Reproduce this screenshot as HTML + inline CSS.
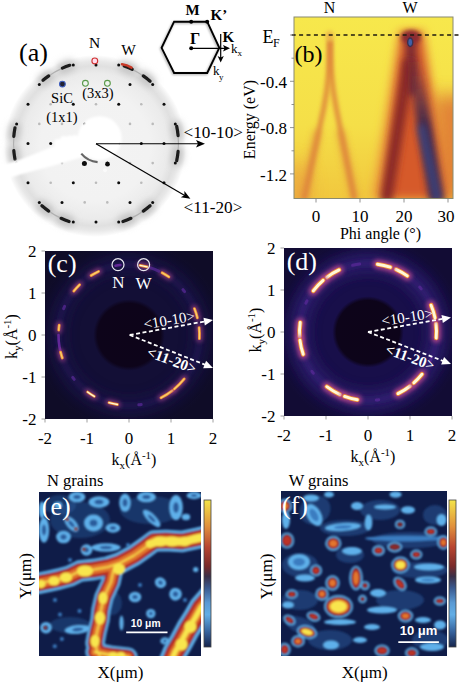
<!DOCTYPE html>
<html><head><meta charset="utf-8"><style>
html,body{margin:0;padding:0;background:#fff;width:460px;height:685px;overflow:hidden}
svg{display:block}
</style></head><body>
<svg width="460" height="685" viewBox="0 0 460 685" font-family="'Liberation Serif', serif">
<rect width="460" height="685" fill="#fff"/>
<defs>
<radialGradient id="leedg" cx="95" cy="146" r="91" gradientUnits="userSpaceOnUse">
<stop offset="0" stop-color="#f3f3f3"/>
<stop offset="0.6" stop-color="#f2f2f2"/>
<stop offset="0.8" stop-color="#ebebeb"/>
<stop offset="0.88" stop-color="#e0e0e0"/>
<stop offset="0.93" stop-color="#e8e8e8"/>
<stop offset="0.975" stop-color="#f6f6f6"/>
<stop offset="1" stop-color="#ffffff"/>
</radialGradient>
<filter id="bl1" filterUnits="userSpaceOnUse" x="0" y="0" width="460" height="685"><feGaussianBlur stdDeviation="1.2"/></filter>
<filter id="bl05" filterUnits="userSpaceOnUse" x="0" y="0" width="460" height="685"><feGaussianBlur stdDeviation="0.5"/></filter>
<filter id="bl3" filterUnits="userSpaceOnUse" x="0" y="0" width="460" height="685"><feGaussianBlur stdDeviation="3.5"/></filter>
<filter id="bl2" filterUnits="userSpaceOnUse" x="0" y="0" width="460" height="685"><feGaussianBlur stdDeviation="2.5"/></filter>
</defs>
<circle cx="95" cy="146" r="91" fill="url(#leedg)"/>
<path d="M178.1,135.6 A82.5,82.5 0 0 0 176.7,126.3" stroke="#c2c2c2" stroke-width="11" fill="none" stroke-linecap="round" filter="url(#bl3)"/>
<path d="M176.7,160.7 A82.5,82.5 0 0 0 178.1,151.4" stroke="#c2c2c2" stroke-width="11" fill="none" stroke-linecap="round" filter="url(#bl3)"/>
<path d="M150.1,81.2 A82.5,82.5 0 0 0 143.3,75.9" stroke="#c2c2c2" stroke-width="11" fill="none" stroke-linecap="round" filter="url(#bl3)"/>
<path d="M132.2,69.3 A82.5,82.5 0 0 0 124.2,66.0" stroke="#c2c2c2" stroke-width="11" fill="none" stroke-linecap="round" filter="url(#bl3)"/>
<path d="M69.8,65.3 A82.5,82.5 0 0 0 62.4,68.1" stroke="#c2c2c2" stroke-width="11" fill="none" stroke-linecap="round" filter="url(#bl3)"/>
<path d="M48.7,75.9 A82.5,82.5 0 0 0 43.0,80.3" stroke="#c2c2c2" stroke-width="11" fill="none" stroke-linecap="round" filter="url(#bl3)"/>
<path d="M15.0,127.8 A82.5,82.5 0 0 0 13.8,136.3" stroke="#c2c2c2" stroke-width="11" fill="none" stroke-linecap="round" filter="url(#bl3)"/>
<path d="M13.8,150.7 A82.5,82.5 0 0 0 15.0,159.2" stroke="#c2c2c2" stroke-width="11" fill="none" stroke-linecap="round" filter="url(#bl3)"/>
<path d="M41.9,205.8 A82.5,82.5 0 0 0 48.7,211.1" stroke="#c2c2c2" stroke-width="11" fill="none" stroke-linecap="round" filter="url(#bl3)"/>
<path d="M61.1,218.3 A82.5,82.5 0 0 0 69.1,221.5" stroke="#c2c2c2" stroke-width="11" fill="none" stroke-linecap="round" filter="url(#bl3)"/>
<path d="M122.9,221.5 A82.5,82.5 0 0 0 130.9,218.3" stroke="#c2c2c2" stroke-width="11" fill="none" stroke-linecap="round" filter="url(#bl3)"/>
<path d="M143.3,211.1 A82.5,82.5 0 0 0 150.1,205.8" stroke="#c2c2c2" stroke-width="11" fill="none" stroke-linecap="round" filter="url(#bl3)"/>
<path d="M178.0,152.1 A82.5,82.5 0 0 0 178.0,134.9" stroke="#b0b0b0" stroke-width="1.2" fill="none" filter="url(#bl05)"/>
<path d="M144.5,76.8 A82.5,82.5 0 0 0 129.6,68.1" stroke="#b0b0b0" stroke-width="1.2" fill="none" filter="url(#bl05)"/>
<path d="M62.4,68.1 A82.5,82.5 0 0 0 47.5,76.8" stroke="#b0b0b0" stroke-width="1.2" fill="none" filter="url(#bl05)"/>
<path d="M14.0,134.9 A82.5,82.5 0 0 0 14.0,152.1" stroke="#b0b0b0" stroke-width="1.2" fill="none" filter="url(#bl05)"/>
<path d="M47.5,210.2 A82.5,82.5 0 0 0 62.4,218.9" stroke="#b0b0b0" stroke-width="1.2" fill="none" filter="url(#bl05)"/>
<path d="M129.6,218.9 A82.5,82.5 0 0 0 144.5,210.2" stroke="#b0b0b0" stroke-width="1.2" fill="none" filter="url(#bl05)"/>
<path d="M178.1,135.6 A82.5,82.5 0 0 0 176.7,126.3" stroke="#1a1a1a" stroke-width="3.2" fill="none" stroke-linecap="round" filter="url(#bl05)"/>
<path d="M176.7,160.7 A82.5,82.5 0 0 0 178.1,151.4" stroke="#1a1a1a" stroke-width="3.2" fill="none" stroke-linecap="round" filter="url(#bl05)"/>
<path d="M150.1,81.2 A82.5,82.5 0 0 0 143.3,75.9" stroke="#1a1a1a" stroke-width="3.2" fill="none" stroke-linecap="round" filter="url(#bl05)"/>
<path d="M132.2,69.3 A82.5,82.5 0 0 0 124.2,66.0" stroke="#1a1a1a" stroke-width="3.2" fill="none" stroke-linecap="round" filter="url(#bl05)"/>
<path d="M69.8,65.3 A82.5,82.5 0 0 0 62.4,68.1" stroke="#1a1a1a" stroke-width="3.2" fill="none" stroke-linecap="round" filter="url(#bl05)"/>
<path d="M48.7,75.9 A82.5,82.5 0 0 0 43.0,80.3" stroke="#1a1a1a" stroke-width="3.2" fill="none" stroke-linecap="round" filter="url(#bl05)"/>
<path d="M15.0,127.8 A82.5,82.5 0 0 0 13.8,136.3" stroke="#1a1a1a" stroke-width="3.2" fill="none" stroke-linecap="round" filter="url(#bl05)"/>
<path d="M13.8,150.7 A82.5,82.5 0 0 0 15.0,159.2" stroke="#1a1a1a" stroke-width="3.2" fill="none" stroke-linecap="round" filter="url(#bl05)"/>
<path d="M41.9,205.8 A82.5,82.5 0 0 0 48.7,211.1" stroke="#1a1a1a" stroke-width="3.2" fill="none" stroke-linecap="round" filter="url(#bl05)"/>
<path d="M61.1,218.3 A82.5,82.5 0 0 0 69.1,221.5" stroke="#1a1a1a" stroke-width="3.2" fill="none" stroke-linecap="round" filter="url(#bl05)"/>
<path d="M122.9,221.5 A82.5,82.5 0 0 0 130.9,218.3" stroke="#1a1a1a" stroke-width="3.2" fill="none" stroke-linecap="round" filter="url(#bl05)"/>
<path d="M143.3,211.1 A82.5,82.5 0 0 0 150.1,205.8" stroke="#1a1a1a" stroke-width="3.2" fill="none" stroke-linecap="round" filter="url(#bl05)"/>
<circle cx="141.3" cy="143.5" r="1.5" fill="#111" filter="url(#bl05)"/>
<circle cx="118.7" cy="104.2" r="1.5" fill="#111" filter="url(#bl05)"/>
<circle cx="73.3" cy="104.2" r="1.5" fill="#111" filter="url(#bl05)"/>
<circle cx="50.7" cy="143.5" r="1.5" fill="#111" filter="url(#bl05)"/>
<circle cx="73.3" cy="182.8" r="1.5" fill="#111" filter="url(#bl05)"/>
<circle cx="118.7" cy="182.8" r="1.5" fill="#111" filter="url(#bl05)"/>
<circle cx="164.0" cy="143.5" r="1.5" fill="#111" filter="url(#bl05)"/>
<circle cx="130.0" cy="84.6" r="1.5" fill="#111" filter="url(#bl05)"/>
<circle cx="62.0" cy="84.6" r="1.5" fill="#111" filter="url(#bl05)"/>
<circle cx="28.0" cy="143.5" r="1.5" fill="#111" filter="url(#bl05)"/>
<circle cx="62.0" cy="202.4" r="1.5" fill="#111" filter="url(#bl05)"/>
<circle cx="130.0" cy="202.4" r="1.5" fill="#111" filter="url(#bl05)"/>
<circle cx="175.3" cy="123.9" r="1.5" fill="#111" filter="url(#bl05)"/>
<circle cx="118.7" cy="65.0" r="1.5" fill="#111" filter="url(#bl05)"/>
<circle cx="39.3" cy="84.6" r="1.5" fill="#111" filter="url(#bl05)"/>
<circle cx="16.7" cy="163.1" r="1.5" fill="#111" filter="url(#bl05)"/>
<circle cx="73.3" cy="222.0" r="1.5" fill="#111" filter="url(#bl05)"/>
<circle cx="152.7" cy="202.4" r="1.5" fill="#111" filter="url(#bl05)"/>
<circle cx="152.7" cy="84.6" r="1.5" fill="#111" filter="url(#bl05)"/>
<circle cx="73.3" cy="65.0" r="1.5" fill="#111" filter="url(#bl05)"/>
<circle cx="16.6" cy="123.9" r="1.5" fill="#111" filter="url(#bl05)"/>
<circle cx="39.3" cy="202.4" r="1.5" fill="#111" filter="url(#bl05)"/>
<circle cx="118.7" cy="222.0" r="1.5" fill="#111" filter="url(#bl05)"/>
<circle cx="175.3" cy="163.1" r="1.5" fill="#111" filter="url(#bl05)"/>
<circle cx="164.0" cy="104.2" r="1.5" fill="#111" filter="url(#bl05)"/>
<circle cx="96.0" cy="65.0" r="1.5" fill="#111" filter="url(#bl05)"/>
<circle cx="28.0" cy="104.2" r="1.5" fill="#111" filter="url(#bl05)"/>
<circle cx="28.0" cy="182.8" r="1.5" fill="#111" filter="url(#bl05)"/>
<circle cx="96.0" cy="222.0" r="1.5" fill="#111" filter="url(#bl05)"/>
<circle cx="164.0" cy="182.8" r="1.5" fill="#111" filter="url(#bl05)"/>
<circle cx="84.7" cy="123.9" r="1.5" fill="#111" filter="url(#bl05)"/>
<circle cx="73.3" cy="143.5" r="1.5" fill="#111" filter="url(#bl05)"/>
<circle cx="84.7" cy="163.1" r="1.5" fill="#111" filter="url(#bl05)"/>
<circle cx="107.3" cy="163.1" r="1.5" fill="#111" filter="url(#bl05)"/>
<circle cx="118.7" cy="143.5" r="1.5" fill="#111" filter="url(#bl05)"/>
<circle cx="107.3" cy="123.9" r="1.5" fill="#111" filter="url(#bl05)"/>
<circle cx="130.0" cy="123.9" r="1.3" fill="#bbb" filter="url(#bl05)"/>
<circle cx="96.0" cy="104.2" r="1.3" fill="#bbb" filter="url(#bl05)"/>
<circle cx="62.0" cy="123.9" r="1.3" fill="#bbb" filter="url(#bl05)"/>
<circle cx="62.0" cy="163.1" r="1.3" fill="#bbb" filter="url(#bl05)"/>
<circle cx="96.0" cy="182.8" r="1.3" fill="#bbb" filter="url(#bl05)"/>
<circle cx="130.0" cy="163.1" r="1.3" fill="#bbb" filter="url(#bl05)"/>
<circle cx="141.3" cy="104.2" r="1.3" fill="#bbb" filter="url(#bl05)"/>
<circle cx="84.7" cy="84.6" r="1.3" fill="#bbb" filter="url(#bl05)"/>
<circle cx="39.3" cy="123.9" r="1.3" fill="#bbb" filter="url(#bl05)"/>
<circle cx="50.7" cy="182.8" r="1.3" fill="#bbb" filter="url(#bl05)"/>
<circle cx="107.3" cy="202.4" r="1.3" fill="#bbb" filter="url(#bl05)"/>
<circle cx="152.7" cy="163.1" r="1.3" fill="#bbb" filter="url(#bl05)"/>
<circle cx="152.7" cy="123.9" r="1.3" fill="#bbb" filter="url(#bl05)"/>
<circle cx="107.3" cy="84.6" r="1.3" fill="#bbb" filter="url(#bl05)"/>
<circle cx="50.6" cy="104.2" r="1.3" fill="#bbb" filter="url(#bl05)"/>
<circle cx="39.3" cy="163.1" r="1.3" fill="#bbb" filter="url(#bl05)"/>
<circle cx="84.7" cy="202.4" r="1.3" fill="#bbb" filter="url(#bl05)"/>
<circle cx="141.3" cy="182.8" r="1.3" fill="#bbb" filter="url(#bl05)"/>
<g filter="url(#bl1)" fill="#fff">
<circle cx="99.7" cy="138.2" r="22"/>
<path d="M0,166 L22,159 L52,147 L70,140 L88,133 L100,150 L86,156 L52,166 L22,174 L0,181 Z"/>
<circle cx="58" cy="143" r="4"/><circle cx="64" cy="140" r="4"/><circle cx="70" cy="139" r="3.5"/><circle cx="75" cy="138" r="3"/>
</g>
<path d="M97.6,162.1 A24.0,24.0 0 0 1 81.3,153.6" stroke="#666" stroke-width="2.2" fill="none" filter="url(#bl05)"/>
<circle cx="105" cy="170.3" r="2" fill="#fafafa" filter="url(#bl05)"/>
<circle cx="84.4" cy="163.4" r="2.5" fill="#111" filter="url(#bl05)"/>
<circle cx="107.5" cy="164.2" r="2.4" fill="#111" filter="url(#bl05)"/>
<circle cx="94.8" cy="60.9" r="2.9" fill="#fde" stroke="#d03030" stroke-width="1.1"/>
<circle cx="62.4" cy="84.1" r="2.9" fill="#223" stroke="#4060c0" stroke-width="1.1"/>
<circle cx="85.4" cy="83.3" r="2.9" fill="#eef5ee" stroke="#5a9a4a" stroke-width="1.1"/>
<circle cx="107.4" cy="83.3" r="2.9" fill="#eef5ee" stroke="#5a9a4a" stroke-width="1.1"/>
<path d="M122,64.3 Q127,65 131.5,67.6" stroke="#c83a28" stroke-width="2.6" fill="none" stroke-linecap="round"/>
<line x1="96" y1="143.7" x2="200" y2="143.7" stroke="#000" stroke-width="1.15"/>
<path d="M205,143.7 L196,140 L198,143.7 L196,147.4 Z" fill="#000"/>
<line x1="96" y1="143.7" x2="186.9" y2="196.7" stroke="#000" stroke-width="1.15"/>
<path d="M190.4,198.7 L180.8,197.3 L184.4,195.2 L184.4,191.1 Z" fill="#000"/>
<text x="19" y="61" font-size="26" text-anchor="start" fill="#000" font-weight="normal" >(a)</text>
<text x="94.5" y="48.3" font-size="15.5" text-anchor="middle" fill="#000" font-weight="normal" >N</text>
<text x="128.5" y="55.1" font-size="15.5" text-anchor="middle" fill="#000" font-weight="normal" >W</text>
<text x="62" y="103.3" font-size="14.5" text-anchor="middle" fill="#000" font-weight="normal" >SiC</text>
<text x="62" y="122" font-size="14.5" text-anchor="middle" fill="#000" font-weight="normal" >(1x1)</text>
<text x="98" y="98" font-size="14.5" text-anchor="middle" fill="#000" font-weight="normal" >(3x3)</text>
<text x="183.5" y="137.6" font-size="17.2" text-anchor="start" fill="#000" font-weight="normal" >&lt;10-10&gt;</text>
<text x="183.5" y="213.2" font-size="17.2" text-anchor="start" fill="#000" font-weight="normal" >&lt;11-20&gt;</text>
<polygon points="174.1,21.7 207.2,21.7 219.3,47.8 207.2,73 174.1,73 161.6,47.8" fill="none" stroke="#aaa" stroke-width="2" transform="translate(-0.8,1)" filter="url(#bl1)"/>
<polygon points="174.1,21.7 207.2,21.7 219.3,47.8 207.2,73 174.1,73 161.6,47.8" fill="none" stroke="#000" stroke-width="1.9" stroke-linejoin="miter"/>
<circle cx="191.2" cy="48.3" r="2" fill="#000"/>
<circle cx="191.2" cy="21.7" r="2" fill="#000"/>
<circle cx="207.2" cy="21.7" r="2" fill="#000"/>
<line x1="191.2" y1="48.3" x2="225" y2="48.3" stroke="#000" stroke-width="1.3"/>
<path d="M230,48.3 L223,45 L224.5,48.3 L223,51.6 Z" fill="#000"/>
<line x1="220.7" y1="33.9" x2="220.7" y2="58" stroke="#000" stroke-width="1.2"/>
<path d="M220.7,62.6 L217.6,56 L220.7,57.4 L223.8,56 Z" fill="#000"/>
<text x="192.5" y="15.3" font-size="15" text-anchor="middle" fill="#000" font-weight="bold" >M</text>
<text x="210.5" y="19.6" font-size="15" text-anchor="start" fill="#000" font-weight="bold" >K&#8217;</text>
<text x="195.2" y="44.3" font-size="16" text-anchor="middle" fill="#000" font-weight="bold" >&#915;</text>
<text x="222.5" y="41.7" font-size="15" text-anchor="start" fill="#000" font-weight="bold" >K</text>
<text x="231" y="53.3" font-size="13" text-anchor="start" fill="#000" font-weight="normal" >k</text>
<text x="237.5" y="56" font-size="9" text-anchor="start" fill="#000" font-weight="normal" >x</text>
<text x="213" y="74.8" font-size="13" text-anchor="start" fill="#000" font-weight="normal" >k</text>
<text x="219" y="79.5" font-size="9" text-anchor="start" fill="#000" font-weight="normal" >y</text>
<defs>
<clipPath id="cpb"><rect x="294" y="17" width="159" height="181.5"/></clipPath>
<linearGradient id="bgb" x1="0" y1="0" x2="0" y2="1">
<stop offset="0" stop-color="#f7e84c"/><stop offset="0.6" stop-color="#f5df48"/><stop offset="1" stop-color="#f1c73e"/>
</linearGradient>
<filter id="blb" filterUnits="userSpaceOnUse" x="0" y="0" width="460" height="685"><feGaussianBlur stdDeviation="2.2"/></filter>
<filter id="blb2" filterUnits="userSpaceOnUse" x="0" y="0" width="460" height="685"><feGaussianBlur stdDeviation="5"/></filter>
<linearGradient id="rbg" gradientUnits="userSpaceOnUse" x1="0" y1="55" x2="0" y2="125"><stop offset="0" stop-color="#40284c" stop-opacity="0"/><stop offset="1" stop-color="#40284c" stop-opacity="1"/></linearGradient>
<filter id="blb4" filterUnits="userSpaceOnUse" x="0" y="0" width="460" height="685"><feGaussianBlur stdDeviation="3.5"/></filter>
<filter id="blb3" filterUnits="userSpaceOnUse" x="0" y="0" width="460" height="685"><feGaussianBlur stdDeviation="9"/></filter>
</defs>
<g clip-path="url(#cpb)">
<rect x="294" y="17" width="159" height="181.5" fill="url(#bgb)"/>
<path d="M399,30 L424,30 L450,198 L372,198 Z" fill="#eb9a3c" filter="url(#blb2)"/>
<path d="M403,34 L420,34 L446,198 L382,198 Z" fill="#d65a2c" filter="url(#blb2)"/>
<path d="M432,95 L470,95 L470,198 L440,198 Z" fill="#dc6a30" opacity="0.8" filter="url(#blb3)"/>
<path d="M411,38 L411,95" stroke="#7e2a30" stroke-width="11" fill="none" filter="url(#blb4)"/>
<path d="M409,60 L386,202" stroke="#8a2a26" stroke-width="12" fill="none" filter="url(#blb4)"/>
<path d="M412,50 L437,202" stroke="url(#rbg)" stroke-width="14" fill="none" filter="url(#blb4)"/>
<path d="M421,125 L438,202" stroke="#3a5090" stroke-width="7" fill="none" opacity="0.8" filter="url(#blb4)"/>
<ellipse cx="411" cy="37" rx="10" ry="7" fill="#8a2a30" filter="url(#blb)"/>
<ellipse cx="410.2" cy="42.3" rx="3.2" ry="5" fill="#3a3050" filter="url(#bl05)"/>
<ellipse cx="410.2" cy="42.3" rx="1.8" ry="3.4" fill="#4060a8" filter="url(#bl05)"/>
<ellipse cx="296" cy="190" rx="14" ry="30" fill="#eba040" opacity="0.7" filter="url(#blb3)"/>
<path d="M318,130 L303,200" stroke="#e08a3c" stroke-width="8" fill="none" opacity="0.6" filter="url(#blb4)"/>
<path d="M340,130 L355,200" stroke="#e08a3c" stroke-width="8" fill="none" opacity="0.6" filter="url(#blb4)"/>
<path d="M330,40 C330,70 327,92 324,107 L304,200" stroke="#de843a" stroke-width="4.5" fill="none" filter="url(#blb)"/>
<path d="M330,40 C330,70 333,92 336,107 L354.5,200" stroke="#de843a" stroke-width="4.5" fill="none" filter="url(#blb)"/>
<ellipse cx="329.5" cy="36" rx="4" ry="5" fill="#eab04a" filter="url(#blb)"/>
</g>
<rect x="294" y="17" width="159" height="181.5" fill="none" stroke="#8a8a70" stroke-width="1"/>
<line x1="289" y1="35" x2="460" y2="35" stroke="#1e1a10" stroke-width="1.5" stroke-dasharray="4,3.4" stroke-dashoffset="-2.7"/>
<line x1="290" y1="35" x2="294" y2="35" stroke="#777" stroke-width="0.8"/>
<line x1="290" y1="81.3" x2="294" y2="81.3" stroke="#777" stroke-width="0.8"/>
<line x1="290" y1="127.6" x2="294" y2="127.6" stroke="#777" stroke-width="0.8"/>
<line x1="290" y1="173.9" x2="294" y2="173.9" stroke="#777" stroke-width="0.8"/>
<line x1="291.5" y1="58.2" x2="294" y2="58.2" stroke="#777" stroke-width="0.8"/>
<line x1="291.5" y1="104.5" x2="294" y2="104.5" stroke="#777" stroke-width="0.8"/>
<line x1="291.5" y1="150.8" x2="294" y2="150.8" stroke="#777" stroke-width="0.8"/>
<line x1="316" y1="198.5" x2="316" y2="202.5" stroke="#777" stroke-width="0.8"/>
<line x1="360" y1="198.5" x2="360" y2="202.5" stroke="#777" stroke-width="0.8"/>
<line x1="404" y1="198.5" x2="404" y2="202.5" stroke="#777" stroke-width="0.8"/>
<line x1="448" y1="198.5" x2="448" y2="202.5" stroke="#777" stroke-width="0.8"/>
<text x="262.6" y="42.6" font-size="18" text-anchor="start" fill="#000" font-weight="normal" >E</text>
<text x="273" y="46.8" font-size="12" text-anchor="start" fill="#000" font-weight="normal" >F</text>
<text x="287" y="87.8" font-size="17" text-anchor="end" fill="#000" font-weight="normal" >-0.4</text>
<text x="287" y="134.2" font-size="17" text-anchor="end" fill="#000" font-weight="normal" >-0.8</text>
<text x="287" y="180.5" font-size="17" text-anchor="end" fill="#000" font-weight="normal" >-1.2</text>
<text x="316" y="221.6" font-size="17" text-anchor="middle" fill="#000" font-weight="normal" >0</text>
<text x="360" y="221.6" font-size="17" text-anchor="middle" fill="#000" font-weight="normal" >10</text>
<text x="404" y="221.6" font-size="17" text-anchor="middle" fill="#000" font-weight="normal" >20</text>
<text x="446" y="221.6" font-size="17" text-anchor="middle" fill="#000" font-weight="normal" >30</text>
<text x="380.5" y="238.5" font-size="16" text-anchor="middle" fill="#000" font-weight="normal" >Phi angle (&#176;)</text>
<text x="255" y="119.5" font-size="16" text-anchor="middle" fill="#000" font-weight="normal" transform="rotate(-90 255 119.5)" >Energy (eV)</text>
<text x="329.5" y="13" font-size="16" text-anchor="middle" fill="#000" font-weight="normal" >N</text>
<text x="410" y="13" font-size="16" text-anchor="middle" fill="#000" font-weight="normal" >W</text>
<text x="294.5" y="61.5" font-size="24" text-anchor="start" fill="#000" font-weight="normal" >(b)</text>
<defs><clipPath id="cpc"><rect x="45" y="251" width="168" height="168"/></clipPath>
<radialGradient id="rgc" cx="129" cy="335" r="119" gradientUnits="userSpaceOnUse">
<stop offset="0" stop-color="#0d0419"/><stop offset="0.265" stop-color="#0d041a"/><stop offset="0.30" stop-color="#130f36"/><stop offset="0.62" stop-color="#130f36"/><stop offset="0.80" stop-color="#0f0c27"/><stop offset="1" stop-color="#0f0c27"/>
</radialGradient>
<filter id="bkc" filterUnits="userSpaceOnUse" x="0" y="0" width="460" height="685"><feGaussianBlur stdDeviation="0.6"/></filter>
<filter id="bk2c" filterUnits="userSpaceOnUse" x="0" y="0" width="460" height="685"><feGaussianBlur stdDeviation="2.0"/></filter>
<filter id="bk3c" filterUnits="userSpaceOnUse" x="0" y="0" width="460" height="685"><feGaussianBlur stdDeviation="6"/></filter>
</defs>
<g clip-path="url(#cpc)">
<rect x="45" y="251" width="168" height="168" fill="url(#rgc)"/>
<circle cx="129" cy="335" r="70.5" fill="none" stroke="#1c1450" stroke-width="16" opacity="0.5" filter="url(#bk3c)"/>
<circle cx="129" cy="335" r="70.5" fill="none" stroke="#2e1a66" stroke-width="3" opacity="0.5" filter="url(#bk2c)"/>
<path d="M147.2,266.9 A70.5,70.5 0 0 0 140.0,265.4" stroke="#b8468a" stroke-width="6.8" fill="none" stroke-linecap="round" filter="url(#bk2c)" opacity="0.6"/>
<path d="M147.2,266.9 A70.5,70.5 0 0 0 140.0,265.4" stroke="#f0902e" stroke-width="2.8" fill="none" stroke-linecap="round" filter="url(#bkc)"/>
<path d="M147.2,266.9 A70.5,70.5 0 0 0 140.0,265.4" stroke="#fff8d8" stroke-width="1.4" fill="none" stroke-linecap="round" filter="url(#bkc)"/>
<path d="M120.4,265.0 A70.5,70.5 0 0 0 115.5,265.8" stroke="#6a2aa0" stroke-width="2.6" fill="none" stroke-linecap="round" filter="url(#bkc)" opacity="0.9"/>
<path d="M98.6,271.4 A70.5,70.5 0 0 0 91.1,275.5" stroke="#b8468a" stroke-width="6.8" fill="none" stroke-linecap="round" filter="url(#bk2c)" opacity="0.6"/>
<path d="M98.6,271.4 A70.5,70.5 0 0 0 91.1,275.5" stroke="#f0902e" stroke-width="2.8" fill="none" stroke-linecap="round" filter="url(#bkc)"/>
<path d="M98.6,271.4 A70.5,70.5 0 0 0 91.1,275.5" stroke="#f8d070" stroke-width="1.3" fill="none" stroke-linecap="round" filter="url(#bkc)"/>
<path d="M79.6,284.7 A70.5,70.5 0 0 0 73.8,291.1" stroke="#b8468a" stroke-width="6.8" fill="none" stroke-linecap="round" filter="url(#bk2c)" opacity="0.6"/>
<path d="M79.6,284.7 A70.5,70.5 0 0 0 73.8,291.1" stroke="#f0902e" stroke-width="2.8" fill="none" stroke-linecap="round" filter="url(#bkc)"/>
<path d="M79.6,284.7 A70.5,70.5 0 0 0 73.8,291.1" stroke="#f8d070" stroke-width="1.3" fill="none" stroke-linecap="round" filter="url(#bkc)"/>
<path d="M59.2,325.2 A70.5,70.5 0 0 0 58.7,330.1" stroke="#b8468a" stroke-width="6.8" fill="none" stroke-linecap="round" filter="url(#bk2c)" opacity="0.6"/>
<path d="M59.2,325.2 A70.5,70.5 0 0 0 58.7,330.1" stroke="#f0902e" stroke-width="2.8" fill="none" stroke-linecap="round" filter="url(#bkc)"/>
<path d="M59.2,325.2 A70.5,70.5 0 0 0 58.7,330.1" stroke="#f8d070" stroke-width="1.3" fill="none" stroke-linecap="round" filter="url(#bkc)"/>
<path d="M58.5,335.0 A70.5,70.5 0 0 0 62.3,358.0" stroke="#6a2aa0" stroke-width="2.6" fill="none" stroke-linecap="round" filter="url(#bkc)" opacity="0.9"/>
<path d="M60.6,352.1 A70.5,70.5 0 0 0 62.3,358.0" stroke="#b8468a" stroke-width="6.8" fill="none" stroke-linecap="round" filter="url(#bk2c)" opacity="0.6"/>
<path d="M60.6,352.1 A70.5,70.5 0 0 0 62.3,358.0" stroke="#f0902e" stroke-width="2.8" fill="none" stroke-linecap="round" filter="url(#bkc)"/>
<path d="M60.6,352.1 A70.5,70.5 0 0 0 62.3,358.0" stroke="#f8d070" stroke-width="1.3" fill="none" stroke-linecap="round" filter="url(#bkc)"/>
<path d="M87.6,392.0 A70.5,70.5 0 0 0 94.3,396.4" stroke="#b8468a" stroke-width="6.8" fill="none" stroke-linecap="round" filter="url(#bk2c)" opacity="0.6"/>
<path d="M87.6,392.0 A70.5,70.5 0 0 0 94.3,396.4" stroke="#f0902e" stroke-width="2.8" fill="none" stroke-linecap="round" filter="url(#bkc)"/>
<path d="M87.6,392.0 A70.5,70.5 0 0 0 94.3,396.4" stroke="#fff8d8" stroke-width="1.4" fill="none" stroke-linecap="round" filter="url(#bkc)"/>
<path d="M109.0,402.6 A70.5,70.5 0 0 0 117.4,404.5" stroke="#b8468a" stroke-width="6.8" fill="none" stroke-linecap="round" filter="url(#bk2c)" opacity="0.6"/>
<path d="M109.0,402.6 A70.5,70.5 0 0 0 117.4,404.5" stroke="#f0902e" stroke-width="2.8" fill="none" stroke-linecap="round" filter="url(#bkc)"/>
<path d="M109.0,402.6 A70.5,70.5 0 0 0 117.4,404.5" stroke="#fff8d8" stroke-width="1.4" fill="none" stroke-linecap="round" filter="url(#bkc)"/>
<path d="M161.0,397.8 A70.5,70.5 0 0 0 172.4,390.6" stroke="#b8468a" stroke-width="6.8" fill="none" stroke-linecap="round" filter="url(#bk2c)" opacity="0.6"/>
<path d="M161.0,397.8 A70.5,70.5 0 0 0 172.4,390.6" stroke="#f0902e" stroke-width="2.8" fill="none" stroke-linecap="round" filter="url(#bkc)"/>
<path d="M161.0,397.8 A70.5,70.5 0 0 0 172.4,390.6" stroke="#f8d070" stroke-width="1.3" fill="none" stroke-linecap="round" filter="url(#bkc)"/>
<path d="M174.3,389.0 A70.5,70.5 0 0 0 184.2,378.9" stroke="#b8468a" stroke-width="6.8" fill="none" stroke-linecap="round" filter="url(#bk2c)" opacity="0.6"/>
<path d="M174.3,389.0 A70.5,70.5 0 0 0 184.2,378.9" stroke="#f0902e" stroke-width="2.8" fill="none" stroke-linecap="round" filter="url(#bkc)"/>
<path d="M174.3,389.0 A70.5,70.5 0 0 0 184.2,378.9" stroke="#f8d070" stroke-width="1.3" fill="none" stroke-linecap="round" filter="url(#bkc)"/>
<path d="M199.4,338.7 A70.5,70.5 0 0 0 199.1,327.6" stroke="#b8468a" stroke-width="6.8" fill="none" stroke-linecap="round" filter="url(#bk2c)" opacity="0.6"/>
<path d="M199.4,338.7 A70.5,70.5 0 0 0 199.1,327.6" stroke="#f0902e" stroke-width="2.8" fill="none" stroke-linecap="round" filter="url(#bkc)"/>
<path d="M199.4,338.7 A70.5,70.5 0 0 0 199.1,327.6" stroke="#f8d070" stroke-width="1.3" fill="none" stroke-linecap="round" filter="url(#bkc)"/>
<path d="M197.4,317.9 A70.5,70.5 0 0 0 194.4,308.6" stroke="#b8468a" stroke-width="6.8" fill="none" stroke-linecap="round" filter="url(#bk2c)" opacity="0.6"/>
<path d="M197.4,317.9 A70.5,70.5 0 0 0 194.4,308.6" stroke="#f0902e" stroke-width="2.8" fill="none" stroke-linecap="round" filter="url(#bkc)"/>
<path d="M197.4,317.9 A70.5,70.5 0 0 0 194.4,308.6" stroke="#f8d070" stroke-width="1.3" fill="none" stroke-linecap="round" filter="url(#bkc)"/>
<path d="M168.9,276.9 A70.5,70.5 0 0 0 162.1,272.8" stroke="#b8468a" stroke-width="6.8" fill="none" stroke-linecap="round" filter="url(#bk2c)" opacity="0.6"/>
<path d="M168.9,276.9 A70.5,70.5 0 0 0 162.1,272.8" stroke="#f0902e" stroke-width="2.8" fill="none" stroke-linecap="round" filter="url(#bkc)"/>
<path d="M168.9,276.9 A70.5,70.5 0 0 0 162.1,272.8" stroke="#f8d070" stroke-width="1.3" fill="none" stroke-linecap="round" filter="url(#bkc)"/>
<path d="M64.6,306.3 A70.5,70.5 0 0 0 63.6,308.6" stroke="#5a2a9a" stroke-width="3" fill="none" stroke-linecap="round" filter="url(#bkc)" opacity="0.7"/>
<path d="M72.7,377.4 A70.5,70.5 0 0 0 74.2,379.4" stroke="#5a2a9a" stroke-width="3" fill="none" stroke-linecap="round" filter="url(#bkc)" opacity="0.7"/>
<path d="M138.8,404.8 A70.5,70.5 0 0 0 141.2,404.4" stroke="#5a2a9a" stroke-width="3" fill="none" stroke-linecap="round" filter="url(#bkc)" opacity="0.7"/>
<path d="M184.6,291.6 A70.5,70.5 0 0 0 183.0,289.7" stroke="#5a2a9a" stroke-width="3" fill="none" stroke-linecap="round" filter="url(#bkc)" opacity="0.7"/>
<path d="M158.8,271.1 A70.5,70.5 0 0 0 149.6,267.6" stroke="#5a2a9a" stroke-width="3" fill="none" stroke-linecap="round" filter="url(#bkc)" opacity="0.7"/>
</g>
<defs><clipPath id="cpd"><rect x="284" y="248" width="168" height="168"/></clipPath>
<radialGradient id="rgd" cx="368" cy="332" r="119" gradientUnits="userSpaceOnUse">
<stop offset="0" stop-color="#0d0419"/><stop offset="0.265" stop-color="#0d041a"/><stop offset="0.30" stop-color="#180f4a"/><stop offset="0.62" stop-color="#180f4a"/><stop offset="0.80" stop-color="#120c34"/><stop offset="1" stop-color="#120c34"/>
</radialGradient>
<filter id="bkd" filterUnits="userSpaceOnUse" x="0" y="0" width="460" height="685"><feGaussianBlur stdDeviation="0.6"/></filter>
<filter id="bk2d" filterUnits="userSpaceOnUse" x="0" y="0" width="460" height="685"><feGaussianBlur stdDeviation="2.0"/></filter>
<filter id="bk3d" filterUnits="userSpaceOnUse" x="0" y="0" width="460" height="685"><feGaussianBlur stdDeviation="6"/></filter>
</defs>
<g clip-path="url(#cpd)">
<rect x="284" y="248" width="168" height="168" fill="url(#rgd)"/>
<circle cx="368" cy="332" r="68.5" fill="none" stroke="#2c1a68" stroke-width="20" opacity="0.9" filter="url(#bk3d)"/>
<circle cx="368" cy="332" r="68.5" fill="none" stroke="#3a2080" stroke-width="4" opacity="0.6" filter="url(#bk2d)"/>
<path d="M339.1,269.9 A68.5,68.5 0 0 0 326.8,277.3" stroke="#b8468a" stroke-width="9.6" fill="none" stroke-linecap="round" filter="url(#bk2d)" opacity="0.85"/>
<path d="M339.1,269.9 A68.5,68.5 0 0 0 326.8,277.3" stroke="#f0902e" stroke-width="4.6" fill="none" stroke-linecap="round" filter="url(#bkd)"/>
<path d="M339.1,269.9 A68.5,68.5 0 0 0 326.8,277.3" stroke="#fff8d8" stroke-width="2.9" fill="none" stroke-linecap="round" filter="url(#bkd)"/>
<path d="M323.1,280.3 A68.5,68.5 0 0 0 313.3,290.8" stroke="#b8468a" stroke-width="9.6" fill="none" stroke-linecap="round" filter="url(#bk2d)" opacity="0.85"/>
<path d="M323.1,280.3 A68.5,68.5 0 0 0 313.3,290.8" stroke="#f0902e" stroke-width="4.6" fill="none" stroke-linecap="round" filter="url(#bkd)"/>
<path d="M323.1,280.3 A68.5,68.5 0 0 0 313.3,290.8" stroke="#fff8d8" stroke-width="2.9" fill="none" stroke-linecap="round" filter="url(#bkd)"/>
<path d="M407.3,275.9 A68.5,68.5 0 0 0 395.9,269.4" stroke="#b8468a" stroke-width="9.6" fill="none" stroke-linecap="round" filter="url(#bk2d)" opacity="0.85"/>
<path d="M407.3,275.9 A68.5,68.5 0 0 0 395.9,269.4" stroke="#f0902e" stroke-width="4.6" fill="none" stroke-linecap="round" filter="url(#bkd)"/>
<path d="M407.3,275.9 A68.5,68.5 0 0 0 395.9,269.4" stroke="#fff8d8" stroke-width="2.9" fill="none" stroke-linecap="round" filter="url(#bkd)"/>
<path d="M390.3,267.2 A68.5,68.5 0 0 0 377.5,264.2" stroke="#b8468a" stroke-width="9.6" fill="none" stroke-linecap="round" filter="url(#bk2d)" opacity="0.85"/>
<path d="M390.3,267.2 A68.5,68.5 0 0 0 377.5,264.2" stroke="#f0902e" stroke-width="4.6" fill="none" stroke-linecap="round" filter="url(#bkd)"/>
<path d="M390.3,267.2 A68.5,68.5 0 0 0 377.5,264.2" stroke="#fff8d8" stroke-width="2.9" fill="none" stroke-linecap="round" filter="url(#bkd)"/>
<path d="M300.2,322.5 A68.5,68.5 0 0 0 299.7,336.8" stroke="#b8468a" stroke-width="9.6" fill="none" stroke-linecap="round" filter="url(#bk2d)" opacity="0.85"/>
<path d="M300.2,322.5 A68.5,68.5 0 0 0 299.7,336.8" stroke="#f0902e" stroke-width="4.6" fill="none" stroke-linecap="round" filter="url(#bkd)"/>
<path d="M300.2,322.5 A68.5,68.5 0 0 0 299.7,336.8" stroke="#fff8d8" stroke-width="2.9" fill="none" stroke-linecap="round" filter="url(#bkd)"/>
<path d="M300.0,340.3 A68.5,68.5 0 0 0 303.2,354.3" stroke="#b8468a" stroke-width="9.6" fill="none" stroke-linecap="round" filter="url(#bk2d)" opacity="0.85"/>
<path d="M300.0,340.3 A68.5,68.5 0 0 0 303.2,354.3" stroke="#f0902e" stroke-width="4.6" fill="none" stroke-linecap="round" filter="url(#bkd)"/>
<path d="M300.0,340.3 A68.5,68.5 0 0 0 303.2,354.3" stroke="#fff8d8" stroke-width="2.9" fill="none" stroke-linecap="round" filter="url(#bkd)"/>
<path d="M326.8,386.7 A68.5,68.5 0 0 0 340.1,394.6" stroke="#b8468a" stroke-width="9.6" fill="none" stroke-linecap="round" filter="url(#bk2d)" opacity="0.85"/>
<path d="M326.8,386.7 A68.5,68.5 0 0 0 340.1,394.6" stroke="#f0902e" stroke-width="4.6" fill="none" stroke-linecap="round" filter="url(#bkd)"/>
<path d="M326.8,386.7 A68.5,68.5 0 0 0 340.1,394.6" stroke="#fff8d8" stroke-width="2.9" fill="none" stroke-linecap="round" filter="url(#bkd)"/>
<path d="M344.6,396.4 A68.5,68.5 0 0 0 357.3,399.7" stroke="#b8468a" stroke-width="9.6" fill="none" stroke-linecap="round" filter="url(#bk2d)" opacity="0.85"/>
<path d="M344.6,396.4 A68.5,68.5 0 0 0 357.3,399.7" stroke="#f0902e" stroke-width="4.6" fill="none" stroke-linecap="round" filter="url(#bkd)"/>
<path d="M344.6,396.4 A68.5,68.5 0 0 0 357.3,399.7" stroke="#fff8d8" stroke-width="2.9" fill="none" stroke-linecap="round" filter="url(#bkd)"/>
<path d="M398.0,393.6 A68.5,68.5 0 0 0 410.2,386.0" stroke="#b8468a" stroke-width="9.6" fill="none" stroke-linecap="round" filter="url(#bk2d)" opacity="0.85"/>
<path d="M398.0,393.6 A68.5,68.5 0 0 0 410.2,386.0" stroke="#f0902e" stroke-width="4.6" fill="none" stroke-linecap="round" filter="url(#bkd)"/>
<path d="M398.0,393.6 A68.5,68.5 0 0 0 410.2,386.0" stroke="#fff8d8" stroke-width="2.9" fill="none" stroke-linecap="round" filter="url(#bkd)"/>
<path d="M413.8,382.9 A68.5,68.5 0 0 0 422.0,374.2" stroke="#b8468a" stroke-width="9.6" fill="none" stroke-linecap="round" filter="url(#bk2d)" opacity="0.85"/>
<path d="M413.8,382.9 A68.5,68.5 0 0 0 422.0,374.2" stroke="#f0902e" stroke-width="4.6" fill="none" stroke-linecap="round" filter="url(#bkd)"/>
<path d="M413.8,382.9 A68.5,68.5 0 0 0 422.0,374.2" stroke="#fff8d8" stroke-width="2.9" fill="none" stroke-linecap="round" filter="url(#bkd)"/>
<path d="M436.2,338.0 A68.5,68.5 0 0 0 436.0,323.7" stroke="#b8468a" stroke-width="9.6" fill="none" stroke-linecap="round" filter="url(#bk2d)" opacity="0.85"/>
<path d="M436.2,338.0 A68.5,68.5 0 0 0 436.0,323.7" stroke="#f0902e" stroke-width="4.6" fill="none" stroke-linecap="round" filter="url(#bkd)"/>
<path d="M436.2,338.0 A68.5,68.5 0 0 0 436.0,323.7" stroke="#fff8d8" stroke-width="2.9" fill="none" stroke-linecap="round" filter="url(#bkd)"/>
<path d="M435.0,317.8 A68.5,68.5 0 0 0 431.1,305.2" stroke="#b8468a" stroke-width="9.6" fill="none" stroke-linecap="round" filter="url(#bk2d)" opacity="0.85"/>
<path d="M435.0,317.8 A68.5,68.5 0 0 0 431.1,305.2" stroke="#f0902e" stroke-width="4.6" fill="none" stroke-linecap="round" filter="url(#bkd)"/>
<path d="M435.0,317.8 A68.5,68.5 0 0 0 431.1,305.2" stroke="#fff8d8" stroke-width="2.9" fill="none" stroke-linecap="round" filter="url(#bkd)"/>
<path d="M359.7,264.0 A68.5,68.5 0 0 0 352.6,265.3" stroke="#5a2a9a" stroke-width="3" fill="none" stroke-linecap="round" filter="url(#bkd)" opacity="0.7"/>
<path d="M307.0,300.9 A68.5,68.5 0 0 0 305.9,303.1" stroke="#5a2a9a" stroke-width="3" fill="none" stroke-linecap="round" filter="url(#bkd)" opacity="0.7"/>
<path d="M421.2,288.9 A68.5,68.5 0 0 0 419.7,287.1" stroke="#5a2a9a" stroke-width="3" fill="none" stroke-linecap="round" filter="url(#bkd)" opacity="0.7"/>
<path d="M311.9,371.3 A68.5,68.5 0 0 0 313.3,373.2" stroke="#5a2a9a" stroke-width="3" fill="none" stroke-linecap="round" filter="url(#bkd)" opacity="0.7"/>
<path d="M376.3,400.0 A68.5,68.5 0 0 0 378.7,399.7" stroke="#5a2a9a" stroke-width="3" fill="none" stroke-linecap="round" filter="url(#bkd)" opacity="0.7"/>
<path d="M430.1,360.9 A68.5,68.5 0 0 0 431.5,357.7" stroke="#5a2a9a" stroke-width="3" fill="none" stroke-linecap="round" filter="url(#bkd)" opacity="0.7"/>
</g>
<line x1="41.5" y1="251" x2="45" y2="251" stroke="#888" stroke-width="0.8"/>
<text x="36.5" y="256.8" font-size="17" text-anchor="end" fill="#000" font-weight="normal" >2</text>
<line x1="41.5" y1="293" x2="45" y2="293" stroke="#888" stroke-width="0.8"/>
<text x="36.5" y="298.8" font-size="17" text-anchor="end" fill="#000" font-weight="normal" >1</text>
<line x1="41.5" y1="335" x2="45" y2="335" stroke="#888" stroke-width="0.8"/>
<text x="36.5" y="340.8" font-size="17" text-anchor="end" fill="#000" font-weight="normal" >0</text>
<line x1="41.5" y1="377" x2="45" y2="377" stroke="#888" stroke-width="0.8"/>
<text x="36.5" y="382.8" font-size="17" text-anchor="end" fill="#000" font-weight="normal" >-1</text>
<line x1="41.5" y1="419" x2="45" y2="419" stroke="#888" stroke-width="0.8"/>
<text x="36.5" y="424.8" font-size="17" text-anchor="end" fill="#000" font-weight="normal" >-2</text>
<line x1="45" y1="419" x2="45" y2="422.5" stroke="#888" stroke-width="0.8"/>
<text x="45" y="444" font-size="17" text-anchor="middle" fill="#000" font-weight="normal" >-2</text>
<line x1="87" y1="419" x2="87" y2="422.5" stroke="#888" stroke-width="0.8"/>
<text x="87" y="444" font-size="17" text-anchor="middle" fill="#000" font-weight="normal" >-1</text>
<line x1="129" y1="419" x2="129" y2="422.5" stroke="#888" stroke-width="0.8"/>
<text x="129" y="444" font-size="17" text-anchor="middle" fill="#000" font-weight="normal" >0</text>
<line x1="171" y1="419" x2="171" y2="422.5" stroke="#888" stroke-width="0.8"/>
<text x="171" y="444" font-size="17" text-anchor="middle" fill="#000" font-weight="normal" >1</text>
<line x1="213" y1="419" x2="213" y2="422.5" stroke="#888" stroke-width="0.8"/>
<text x="213" y="444" font-size="17" text-anchor="middle" fill="#000" font-weight="normal" >2</text>
<line x1="280.5" y1="248" x2="284" y2="248" stroke="#888" stroke-width="0.8"/>
<text x="275.5" y="253.8" font-size="17" text-anchor="end" fill="#000" font-weight="normal" >2</text>
<line x1="280.5" y1="290" x2="284" y2="290" stroke="#888" stroke-width="0.8"/>
<text x="275.5" y="295.8" font-size="17" text-anchor="end" fill="#000" font-weight="normal" >1</text>
<line x1="280.5" y1="332" x2="284" y2="332" stroke="#888" stroke-width="0.8"/>
<text x="275.5" y="337.8" font-size="17" text-anchor="end" fill="#000" font-weight="normal" >0</text>
<line x1="280.5" y1="374" x2="284" y2="374" stroke="#888" stroke-width="0.8"/>
<text x="275.5" y="379.8" font-size="17" text-anchor="end" fill="#000" font-weight="normal" >-1</text>
<line x1="280.5" y1="416" x2="284" y2="416" stroke="#888" stroke-width="0.8"/>
<text x="275.5" y="421.8" font-size="17" text-anchor="end" fill="#000" font-weight="normal" >-2</text>
<line x1="284" y1="416" x2="284" y2="419.5" stroke="#888" stroke-width="0.8"/>
<text x="284" y="441" font-size="17" text-anchor="middle" fill="#000" font-weight="normal" >-2</text>
<line x1="326" y1="416" x2="326" y2="419.5" stroke="#888" stroke-width="0.8"/>
<text x="326" y="441" font-size="17" text-anchor="middle" fill="#000" font-weight="normal" >-1</text>
<line x1="368" y1="416" x2="368" y2="419.5" stroke="#888" stroke-width="0.8"/>
<text x="368" y="441" font-size="17" text-anchor="middle" fill="#000" font-weight="normal" >0</text>
<line x1="410" y1="416" x2="410" y2="419.5" stroke="#888" stroke-width="0.8"/>
<text x="410" y="441" font-size="17" text-anchor="middle" fill="#000" font-weight="normal" >1</text>
<line x1="452" y1="416" x2="452" y2="419.5" stroke="#888" stroke-width="0.8"/>
<text x="452" y="441" font-size="17" text-anchor="middle" fill="#000" font-weight="normal" >2</text>
<text x="47.7" y="272" font-size="26" text-anchor="start" fill="#fff" font-weight="normal" >(c)</text>
<circle cx="118" cy="264.7" r="6" fill="none" stroke="#e8e8f0" stroke-width="1.2"/>
<circle cx="143.6" cy="264.7" r="6" fill="none" stroke="#e8e8f0" stroke-width="1.2"/>
<text x="118.5" y="288.4" font-size="17" text-anchor="middle" fill="#fff" font-weight="normal" >N</text>
<text x="143.6" y="289" font-size="17" text-anchor="middle" fill="#fff" font-weight="normal" >W</text>
<line x1="129.7" y1="335" x2="206.1" y2="321.2" stroke="#fff" stroke-width="1.8" stroke-dasharray="4,2.5"/>
<path d="M0,0 L-9,-4 L-9,4 Z" fill="#fff" transform="translate(213,320) rotate(-10.2)"/>
<line x1="129.7" y1="335" x2="206.5" y2="365.3" stroke="#fff" stroke-width="1.8" stroke-dasharray="4,2.5"/>
<path d="M0,0 L-9,-4 L-9,4 Z" fill="#fff" transform="translate(213,367.9) rotate(21.6)"/>
<text x="170" y="325" font-size="15" text-anchor="middle" fill="#fff" font-weight="normal" transform="rotate(-9.5 170 325)" >&lt;10-10&gt;</text>
<text x="170" y="365" font-size="15" text-anchor="middle" fill="#fff" font-weight="bold" transform="rotate(20.5 170 365)" >&lt;11-20&gt;</text>
<text x="286.7" y="270" font-size="26" text-anchor="start" fill="#fff" font-weight="normal" >(d)</text>
<line x1="368" y1="332" x2="444.1" y2="318.6" stroke="#fff" stroke-width="1.8" stroke-dasharray="4,2.5"/>
<path d="M0,0 L-9,-4 L-9,4 Z" fill="#fff" transform="translate(451,317.4) rotate(-10.0)"/>
<line x1="368" y1="332" x2="444.5" y2="361.5" stroke="#fff" stroke-width="1.8" stroke-dasharray="4,2.5"/>
<path d="M0,0 L-9,-4 L-9,4 Z" fill="#fff" transform="translate(451,364) rotate(21.1)"/>
<text x="408" y="322" font-size="15" text-anchor="middle" fill="#fff" font-weight="normal" transform="rotate(-9 408 322)" >&lt;10-10&gt;</text>
<text x="408.5" y="362" font-size="15" text-anchor="middle" fill="#fff" font-weight="bold" transform="rotate(20 408.5 362)" >&lt;11-20&gt;</text>
<text transform="translate(17.4,336.5) rotate(-90)" font-size="16" text-anchor="middle">k<tspan font-size="11" dy="4">y</tspan><tspan dy="-4">(Å</tspan><tspan font-size="11" dy="-6">-1</tspan><tspan dy="6">)</tspan></text>
<text transform="translate(260.5,330) rotate(-90)" font-size="16" text-anchor="middle">k<tspan font-size="11" dy="4">y</tspan><tspan dy="-4">(Å</tspan><tspan font-size="11" dy="-6">-1</tspan><tspan dy="6">)</tspan></text>
<text x="134" y="465" font-size="16" text-anchor="middle">k<tspan font-size="11" dy="4">x</tspan><tspan dy="-4">(Å</tspan><tspan font-size="11" dy="-6">-1</tspan><tspan dy="6">)</tspan></text>
<text x="373" y="462" font-size="16" text-anchor="middle">k<tspan font-size="11" dy="4">x</tspan><tspan dy="-4">(Å</tspan><tspan font-size="11" dy="-6">-1</tspan><tspan dy="6">)</tspan></text>
<defs><clipPath id="cpe"><rect x="39" y="492" width="162" height="164"/></clipPath><filter id="hb" filterUnits="userSpaceOnUse" x="0" y="0" width="460" height="685"><feGaussianBlur stdDeviation="0.9"/></filter><filter id="hb2" filterUnits="userSpaceOnUse" x="0" y="0" width="460" height="685"><feGaussianBlur stdDeviation="1.3"/></filter></defs>
<g clip-path="url(#cpe)"><rect x="39" y="492" width="162" height="164" fill="#0f1c48"/>
<g filter="url(#hb2)">
<ellipse cx="80" cy="520" rx="30.0" ry="18.0" fill="#2f66a8" opacity="0.35"/>
<ellipse cx="150" cy="510" rx="30.0" ry="14.0" fill="#2f66a8" opacity="0.35"/>
<ellipse cx="60" cy="505" rx="16.0" ry="10.0" fill="#2f66a8" opacity="0.35"/>
<ellipse cx="112" cy="603" rx="10.0" ry="12.0" fill="#2f66a8" opacity="0.35"/>
<ellipse cx="70" cy="625" rx="20.0" ry="8.0" fill="#2f66a8" opacity="0.35"/>
<ellipse cx="77" cy="497" rx="8.4" ry="5.2" fill="#5fb0ea"/>
<ellipse cx="99" cy="502" rx="10.5" ry="5.8" fill="#5fb0ea"/>
<ellipse cx="44" cy="530" rx="5.2" ry="12.6" fill="#5fb0ea"/>
<ellipse cx="63.5" cy="537" rx="7.4" ry="6.3" fill="#5fb0ea"/>
<ellipse cx="93.5" cy="523" rx="9.5" ry="8.4" fill="#5fb0ea"/>
<ellipse cx="71.5" cy="524" rx="9.5" ry="4.7" fill="#5fb0ea" transform="rotate(48 71.5 524)"/>
<ellipse cx="86.5" cy="550" rx="5.8" ry="5.8" fill="#5fb0ea"/>
<ellipse cx="106" cy="547.5" rx="14.7" ry="4.2" fill="#5fb0ea"/>
<ellipse cx="113" cy="528" rx="7.4" ry="4.7" fill="#5fb0ea"/>
<ellipse cx="125" cy="502.7" rx="5.8" ry="9.1" fill="#5fb0ea"/>
<ellipse cx="146.4" cy="497" rx="9.5" ry="5.2" fill="#5fb0ea"/>
<ellipse cx="151.7" cy="518.4" rx="11.6" ry="4.2" fill="#5fb0ea" transform="rotate(45 151.7 518.4)"/>
<ellipse cx="176" cy="507.5" rx="6.8" ry="12.6" fill="#5fb0ea"/>
<ellipse cx="194" cy="495.5" rx="7.4" ry="3.7" fill="#5fb0ea"/>
<ellipse cx="195.7" cy="569.5" rx="2.6" ry="2.6" fill="#5fb0ea"/>
<ellipse cx="46" cy="627.7" rx="5.8" ry="5.8" fill="#5fb0ea"/>
<ellipse cx="77.7" cy="629.5" rx="13.1" ry="4.4" fill="#5fb0ea" transform="rotate(-5 77.7 629.5)"/>
<ellipse cx="160.5" cy="582.7" rx="5.8" ry="5.2" fill="#5fb0ea" transform="rotate(30 160.5 582.7)"/>
<ellipse cx="175.5" cy="594.2" rx="6.3" ry="6.3" fill="#5fb0ea" transform="rotate(30 175.5 594.2)"/>
<ellipse cx="135" cy="597" rx="6.3" ry="5.2" fill="#5fb0ea"/>
<ellipse cx="150.8" cy="613.6" rx="4.7" ry="4.7" fill="#5fb0ea"/>
<ellipse cx="165" cy="641" rx="4.7" ry="3.7" fill="#5fb0ea"/>
<ellipse cx="121.5" cy="623" rx="2.1" ry="7.4" fill="#5fb0ea"/>
<ellipse cx="42" cy="510" rx="3.2" ry="8.4" fill="#5fb0ea"/>
<ellipse cx="58" cy="505" rx="4.2" ry="3.2" fill="#5fb0ea"/>
<ellipse cx="186" cy="517" rx="4.2" ry="3.2" fill="#5fb0ea"/>
<ellipse cx="77" cy="497" rx="3.6" ry="2.2" fill="#2c5c9c"/>
<ellipse cx="99" cy="502" rx="4.5" ry="2.5" fill="#2c5c9c"/>
<ellipse cx="44" cy="530" rx="2.2" ry="5.4" fill="#2c5c9c"/>
<ellipse cx="63.5" cy="537" rx="3.1" ry="2.7" fill="#2c5c9c"/>
<ellipse cx="93.5" cy="523" rx="4.0" ry="3.6" fill="#2c5c9c"/>
<ellipse cx="71.5" cy="524" rx="4.0" ry="2.0" fill="#2c5c9c" transform="rotate(48 71.5 524)"/>
<ellipse cx="86.5" cy="550" rx="2.5" ry="2.5" fill="#2c5c9c"/>
<ellipse cx="106" cy="547.5" rx="6.3" ry="1.8" fill="#2c5c9c"/>
<ellipse cx="113" cy="528" rx="3.1" ry="2.0" fill="#2c5c9c"/>
<ellipse cx="125" cy="502.7" rx="2.5" ry="3.9" fill="#2c5c9c"/>
<ellipse cx="146.4" cy="497" rx="4.0" ry="2.2" fill="#2c5c9c"/>
<ellipse cx="151.7" cy="518.4" rx="5.0" ry="1.8" fill="#2c5c9c" transform="rotate(45 151.7 518.4)"/>
<ellipse cx="176" cy="507.5" rx="2.9" ry="5.4" fill="#2c5c9c"/>
<ellipse cx="194" cy="495.5" rx="3.1" ry="1.6" fill="#2c5c9c"/>
<ellipse cx="46" cy="627.7" rx="2.5" ry="2.5" fill="#2c5c9c"/>
<ellipse cx="77.7" cy="629.5" rx="5.6" ry="1.9" fill="#2c5c9c" transform="rotate(-5 77.7 629.5)"/>
<ellipse cx="160.5" cy="582.7" rx="2.5" ry="2.2" fill="#2c5c9c" transform="rotate(30 160.5 582.7)"/>
<ellipse cx="175.5" cy="594.2" rx="2.7" ry="2.7" fill="#2c5c9c" transform="rotate(30 175.5 594.2)"/>
<ellipse cx="135" cy="597" rx="2.7" ry="2.2" fill="#2c5c9c"/>
<ellipse cx="150.8" cy="613.6" rx="2.0" ry="2.0" fill="#2c5c9c"/>
<ellipse cx="165" cy="641" rx="2.0" ry="1.6" fill="#2c5c9c"/>
<ellipse cx="60" cy="614.5" rx="2.0" ry="2.0" fill="#3b7cc0"/>
<ellipse cx="79.5" cy="611" rx="2.0" ry="2.0" fill="#3b7cc0"/>
<ellipse cx="54.8" cy="646.2" rx="2.0" ry="2.0" fill="#3b7cc0"/>
<ellipse cx="61.9" cy="639" rx="2.0" ry="2.0" fill="#3b7cc0"/>
<ellipse cx="70" cy="560" rx="2.0" ry="2.0" fill="#3b7cc0"/>
<ellipse cx="128" cy="545" rx="2.0" ry="2.0" fill="#3b7cc0"/>
<ellipse cx="185" cy="600" rx="2.0" ry="2.0" fill="#3b7cc0"/>
<ellipse cx="140" cy="585" rx="2.0" ry="2.0" fill="#3b7cc0"/>
<ellipse cx="55" cy="600" rx="2.0" ry="2.0" fill="#3b7cc0"/>
</g>
<g filter="url(#hb)">
<ellipse cx="67.2" cy="519.3" rx="1.8" ry="1.8" fill="#8a2a2a"/>
<ellipse cx="76" cy="529" rx="1.8" ry="1.8" fill="#8a2a2a"/>
<ellipse cx="83.9" cy="549.2" rx="1.8" ry="1.8" fill="#8a2a2a"/>
<ellipse cx="45.2" cy="627.7" rx="1.8" ry="1.8" fill="#8a2a2a"/>
<path d="M30,584 L39,583.2 L50,581 L59,579 L70,576 L80,571 L94,569.5 L108,567 L120,563 L134,555.5 L146,547 L154,541 L166,540.5 L182,541.5 L194,539 L201,537.5 L210,535" stroke="#5fb0ea" stroke-width="21.5" fill="none" stroke-linejoin="round" stroke-linecap="round"/>
<path d="M114,568 L111,582 L104,597 L101,610 L100,620 L97,632 L95,643 L97,651 L102,660" stroke="#5fb0ea" stroke-width="19.35" fill="none" stroke-linejoin="round" stroke-linecap="round"/>
<path d="M212,595 L201,607.5 L195,618 L188,629 L181,642 L175,652 L170,664" stroke="#5fb0ea" stroke-width="24.724999999999998" fill="none" stroke-linejoin="round" stroke-linecap="round"/>
<path d="M95,652 L110,655 L128,657" stroke="#5fb0ea" stroke-width="19.35" fill="none" stroke-linejoin="round" stroke-linecap="round"/>
<path d="M30,584 L39,583.2 L50,581 L59,579 L70,576 L80,571 L94,569.5 L108,567 L120,563 L134,555.5 L146,547 L154,541 L166,540.5 L182,541.5 L194,539 L201,537.5 L210,535" stroke="#3a2436" stroke-width="16.0" fill="none" stroke-linejoin="round" stroke-linecap="round"/>
<path d="M114,568 L111,582 L104,597 L101,610 L100,620 L97,632 L95,643 L97,651 L102,660" stroke="#3a2436" stroke-width="14.4" fill="none" stroke-linejoin="round" stroke-linecap="round"/>
<path d="M212,595 L201,607.5 L195,618 L188,629 L181,642 L175,652 L170,664" stroke="#3a2436" stroke-width="18.4" fill="none" stroke-linejoin="round" stroke-linecap="round"/>
<path d="M95,652 L110,655 L128,657" stroke="#3a2436" stroke-width="14.4" fill="none" stroke-linejoin="round" stroke-linecap="round"/>
<path d="M30,584 L39,583.2 L50,581 L59,579 L70,576 L80,571 L94,569.5 L108,567 L120,563 L134,555.5 L146,547 L154,541 L166,540.5 L182,541.5 L194,539 L201,537.5 L210,535" stroke="#bc3226" stroke-width="14.5" fill="none" stroke-linejoin="round" stroke-linecap="round"/>
<path d="M114,568 L111,582 L104,597 L101,610 L100,620 L97,632 L95,643 L97,651 L102,660" stroke="#bc3226" stroke-width="13.05" fill="none" stroke-linejoin="round" stroke-linecap="round"/>
<path d="M212,595 L201,607.5 L195,618 L188,629 L181,642 L175,652 L170,664" stroke="#bc3226" stroke-width="16.674999999999997" fill="none" stroke-linejoin="round" stroke-linecap="round"/>
<path d="M95,652 L110,655 L128,657" stroke="#bc3226" stroke-width="13.05" fill="none" stroke-linejoin="round" stroke-linecap="round"/>
<path d="M30,584 L39,583.2 L50,581 L59,579 L70,576 L80,571 L94,569.5 L108,567 L120,563 L134,555.5 L146,547 L154,541 L166,540.5 L182,541.5 L194,539 L201,537.5 L210,535" stroke="#e2772e" stroke-width="8.5" fill="none" stroke-linejoin="round" stroke-linecap="round"/>
<path d="M114,568 L111,582 L104,597 L101,610 L100,620 L97,632 L95,643 L97,651 L102,660" stroke="#e2772e" stroke-width="7.65" fill="none" stroke-linejoin="round" stroke-linecap="round"/>
<path d="M212,595 L201,607.5 L195,618 L188,629 L181,642 L175,652 L170,664" stroke="#e2772e" stroke-width="9.774999999999999" fill="none" stroke-linejoin="round" stroke-linecap="round"/>
<path d="M95,652 L110,655 L128,657" stroke="#e2772e" stroke-width="7.65" fill="none" stroke-linejoin="round" stroke-linecap="round"/>
<path d="M30,584 L39,583.2 L50,581 L59,579 L70,576 L80,571 L94,569.5 L108,567 L120,563 L134,555.5 L146,547 L154,541 L166,540.5 L182,541.5 L194,539 L201,537.5 L210,535" stroke="#f8e64e" stroke-width="1.5" fill="none" stroke-linejoin="round" stroke-linecap="round"/>
<path d="M114,568 L111,582 L104,597 L101,610 L100,620 L97,632 L95,643 L97,651 L102,660" stroke="#f8e64e" stroke-width="1.5" fill="none" stroke-linejoin="round" stroke-linecap="round"/>
<path d="M212,595 L201,607.5 L195,618 L188,629 L181,642 L175,652 L170,664" stroke="#f8e64e" stroke-width="5" fill="none" stroke-linejoin="round" stroke-linecap="round"/>
<path d="M95,652 L110,655 L128,657" stroke="#f8e64e" stroke-width="2" fill="none" stroke-linejoin="round" stroke-linecap="round"/>
<path d="M150,544 L160,541 L172,541.5 L185,541.5 L194,539 L201,537.5 L210,535" stroke="#f8e64e" stroke-width="8" fill="none" stroke-linejoin="round" stroke-linecap="round"/>
<ellipse cx="41" cy="584" rx="4.5" ry="4.0" fill="#f8e64e"/>
<ellipse cx="54" cy="581" rx="5.5" ry="4.5" fill="#f8e64e"/>
<ellipse cx="66" cy="577.5" rx="6.0" ry="5.0" fill="#f8e64e"/>
<ellipse cx="85" cy="571" rx="8.0" ry="5.5" fill="#f8e64e"/>
<ellipse cx="119" cy="569" rx="6.0" ry="5.5" fill="#f8e64e"/>
<ellipse cx="160" cy="541.5" rx="8.0" ry="5.0" fill="#f8e64e"/>
<ellipse cx="172" cy="541.5" rx="8.0" ry="5.0" fill="#f8e64e"/>
<ellipse cx="185" cy="541.5" rx="6.0" ry="4.5" fill="#f8e64e"/>
<ellipse cx="103" cy="598" rx="4.5" ry="6.0" fill="#f8e64e"/>
<ellipse cx="100" cy="618" rx="5.0" ry="6.5" fill="#f8e64e"/>
<ellipse cx="95" cy="641" rx="4.5" ry="6.0" fill="#f8e64e"/>
<ellipse cx="190.4" cy="626.8" rx="6.0" ry="6.0" fill="#f8e64e"/>
<ellipse cx="181.6" cy="644.4" rx="6.0" ry="6.0" fill="#f8e64e"/>
<ellipse cx="113" cy="655" rx="5.0" ry="3.0" fill="#f8e64e"/>
<ellipse cx="121" cy="655" rx="4.0" ry="3.0" fill="#f8e64e"/>
</g></g>
<defs><clipPath id="cpf"><rect x="281" y="491" width="166" height="165"/></clipPath></defs>
<g clip-path="url(#cpf)"><rect x="281" y="491" width="166" height="165" fill="#0f1c48"/>
<g filter="url(#hb2)">
<ellipse cx="315" cy="510" rx="16.0" ry="14.0" fill="#2a5a9c" transform="rotate(-30 315 510)" opacity="0.5"/>
<ellipse cx="300" cy="565" rx="18.0" ry="12.0" fill="#2a5a9c" opacity="0.5"/>
<ellipse cx="345" cy="528" rx="25.0" ry="8.0" fill="#2a5a9c" opacity="0.5"/>
<ellipse cx="410" cy="540" rx="38.0" ry="8.0" fill="#2a5a9c" opacity="0.5"/>
<ellipse cx="420" cy="570" rx="28.0" ry="8.0" fill="#2a5a9c" opacity="0.5"/>
<ellipse cx="300" cy="600" rx="18.0" ry="10.0" fill="#2a5a9c" opacity="0.5"/>
<ellipse cx="330" cy="640" rx="22.0" ry="10.0" fill="#2a5a9c" opacity="0.5"/>
<ellipse cx="430" cy="640" rx="18.0" ry="10.0" fill="#2a5a9c" opacity="0.5"/>
<ellipse cx="400" cy="600" rx="24.0" ry="10.0" fill="#2a5a9c" opacity="0.5"/>
<ellipse cx="380" cy="510" rx="20.0" ry="10.0" fill="#2a5a9c" opacity="0.5"/>
<ellipse cx="435" cy="515" rx="12.0" ry="10.0" fill="#2a5a9c" opacity="0.5"/>
<ellipse cx="350" cy="555" rx="14.0" ry="8.0" fill="#2a5a9c" opacity="0.5"/>
<ellipse cx="300" cy="625" rx="15.0" ry="8.0" fill="#2a5a9c" transform="rotate(20 300 625)" opacity="0.5"/>
<ellipse cx="311" cy="498" rx="8.0" ry="3.5" fill="#5fb0ea"/>
<ellipse cx="314" cy="515" rx="7.0" ry="12.0" fill="#5fb0ea" transform="rotate(-30 314 515)"/>
<ellipse cx="286" cy="520" rx="4.0" ry="9.0" fill="#5fb0ea"/>
<ellipse cx="343" cy="527" rx="18.0" ry="4.0" fill="#5fb0ea" transform="rotate(-4 343 527)"/>
<ellipse cx="357" cy="506" rx="6.0" ry="4.0" fill="#5fb0ea"/>
<ellipse cx="329" cy="494.5" rx="5.0" ry="3.0" fill="#5fb0ea"/>
<ellipse cx="352" cy="551" rx="10.0" ry="4.0" fill="#5fb0ea"/>
<ellipse cx="299" cy="562" rx="11.0" ry="8.0" fill="#5fb0ea"/>
<ellipse cx="395.6" cy="494.6" rx="6.0" ry="3.2" fill="#5fb0ea"/>
<ellipse cx="408" cy="510" rx="7.0" ry="3.8" fill="#5fb0ea"/>
<ellipse cx="368.5" cy="522.6" rx="3.8" ry="8.0" fill="#5fb0ea"/>
<ellipse cx="441.5" cy="520" rx="5.0" ry="6.0" fill="#5fb0ea"/>
<ellipse cx="429" cy="567" rx="15.0" ry="3.5" fill="#5fb0ea"/>
<ellipse cx="385" cy="507" rx="11.0" ry="2.5" fill="#5fb0ea"/>
<ellipse cx="305" cy="578" rx="10.0" ry="3.5" fill="#5fb0ea"/>
<ellipse cx="331" cy="645" rx="8.0" ry="4.5" fill="#5fb0ea"/>
<ellipse cx="340" cy="622" rx="16.0" ry="3.0" fill="#5fb0ea"/>
<ellipse cx="288" cy="605" rx="6.0" ry="3.5" fill="#5fb0ea"/>
<ellipse cx="378" cy="593" rx="8.0" ry="4.0" fill="#5fb0ea"/>
<ellipse cx="382" cy="610" rx="15.0" ry="3.5" fill="#5fb0ea"/>
<ellipse cx="372" cy="627" rx="8.0" ry="3.0" fill="#5fb0ea"/>
<ellipse cx="432" cy="647" rx="12.0" ry="4.0" fill="#5fb0ea"/>
<ellipse cx="428" cy="580" rx="13.0" ry="3.5" fill="#5fb0ea"/>
<ellipse cx="423" cy="620" rx="8.0" ry="3.0" fill="#5fb0ea"/>
<ellipse cx="360" cy="640" rx="7.0" ry="3.0" fill="#5fb0ea"/>
<ellipse cx="440" cy="625" rx="6.0" ry="4.5" fill="#5fb0ea"/>
<ellipse cx="314" cy="515" rx="3.5" ry="7.0" fill="#3b7cc0" transform="rotate(-30 314 515)"/>
<ellipse cx="299" cy="562" rx="6.0" ry="4.0" fill="#3b7cc0"/>
<ellipse cx="343" cy="527" rx="9.0" ry="2.0" fill="#3b7cc0" transform="rotate(-4 343 527)"/>
<ellipse cx="428" cy="580" rx="7.0" ry="1.5" fill="#3b7cc0"/>
<ellipse cx="405" cy="538.5" rx="40.0" ry="3.0" fill="#3a7cc0"/>
</g>
<g filter="url(#hb)">
<ellipse cx="285" cy="506" rx="7.2" ry="7.2" fill="#5fb0ea"/>
<ellipse cx="287" cy="540.5" rx="7.2" ry="8.1" fill="#5fb0ea"/>
<ellipse cx="333.3" cy="543.4" rx="8.1" ry="7.6" fill="#5fb0ea"/>
<ellipse cx="316" cy="570.5" rx="6.1" ry="6.1" fill="#5fb0ea"/>
<ellipse cx="356" cy="578" rx="6.8" ry="12.3" fill="#5fb0ea"/>
<ellipse cx="400" cy="524.4" rx="5.1" ry="4.7" fill="#5fb0ea"/>
<ellipse cx="430.8" cy="531.6" rx="6.4" ry="5.1" fill="#5fb0ea"/>
<ellipse cx="378.5" cy="550.5" rx="6.4" ry="5.5" fill="#5fb0ea"/>
<ellipse cx="394.7" cy="547" rx="7.7" ry="5.4" fill="#5fb0ea"/>
<ellipse cx="416.3" cy="554.6" rx="6.1" ry="5.0" fill="#5fb0ea"/>
<ellipse cx="443.4" cy="542.5" rx="6.4" ry="7.2" fill="#5fb0ea"/>
<ellipse cx="400.5" cy="565" rx="9.3" ry="8.4" fill="#5fb0ea"/>
<ellipse cx="338.5" cy="606.5" rx="14.5" ry="11.5" fill="#5fb0ea"/>
<ellipse cx="332.5" cy="583" rx="7.2" ry="7.7" fill="#5fb0ea"/>
<ellipse cx="322" cy="594" rx="6.8" ry="6.8" fill="#5fb0ea"/>
<ellipse cx="291.8" cy="594.2" rx="6.1" ry="5.0" fill="#5fb0ea"/>
<ellipse cx="289.5" cy="620" rx="6.8" ry="4.9" fill="#5fb0ea" transform="rotate(35 289.5 620)"/>
<ellipse cx="313.5" cy="616.5" rx="7.2" ry="5.0" fill="#5fb0ea" transform="rotate(20 313.5 616.5)"/>
<ellipse cx="307" cy="632" rx="10.5" ry="6.8" fill="#5fb0ea" transform="rotate(15 307 632)"/>
<ellipse cx="298" cy="641.2" rx="6.8" ry="6.2" fill="#5fb0ea"/>
<ellipse cx="284.6" cy="649.5" rx="6.1" ry="6.8" fill="#5fb0ea"/>
<ellipse cx="400" cy="583.8" rx="8.1" ry="5.5" fill="#5fb0ea" transform="rotate(50 400 583.8)"/>
<ellipse cx="405.5" cy="616" rx="7.7" ry="6.4" fill="#5fb0ea"/>
<ellipse cx="439.8" cy="601" rx="6.1" ry="4.5" fill="#5fb0ea"/>
<ellipse cx="382" cy="650.6" rx="7.6" ry="6.1" fill="#5fb0ea"/>
<ellipse cx="411.8" cy="653" rx="6.8" ry="5.7" fill="#5fb0ea"/>
<ellipse cx="365" cy="585.6" rx="4.7" ry="4.7" fill="#5fb0ea"/>
<ellipse cx="362.5" cy="599" rx="4.3" ry="4.3" fill="#5fb0ea"/>
<ellipse cx="285" cy="506" rx="5.5" ry="5.5" fill="#3a2436"/>
<ellipse cx="287" cy="540.5" rx="5.5" ry="6.4" fill="#3a2436"/>
<ellipse cx="333.3" cy="543.4" rx="6.4" ry="5.9" fill="#3a2436"/>
<ellipse cx="316" cy="570.5" rx="4.4" ry="4.4" fill="#3a2436"/>
<ellipse cx="356" cy="578" rx="5.1" ry="10.7" fill="#3a2436"/>
<ellipse cx="400" cy="524.4" rx="3.4" ry="3.0" fill="#3a2436"/>
<ellipse cx="430.8" cy="531.6" rx="4.7" ry="3.4" fill="#3a2436"/>
<ellipse cx="378.5" cy="550.5" rx="4.7" ry="3.8" fill="#3a2436"/>
<ellipse cx="394.7" cy="547" rx="6.0" ry="3.7" fill="#3a2436"/>
<ellipse cx="416.3" cy="554.6" rx="4.4" ry="3.3" fill="#3a2436"/>
<ellipse cx="443.4" cy="542.5" rx="4.7" ry="5.5" fill="#3a2436"/>
<ellipse cx="400.5" cy="565" rx="7.6" ry="6.7" fill="#3a2436"/>
<ellipse cx="338.5" cy="606.5" rx="12.8" ry="9.8" fill="#3a2436"/>
<ellipse cx="332.5" cy="583" rx="5.5" ry="6.0" fill="#3a2436"/>
<ellipse cx="322" cy="594" rx="5.1" ry="5.1" fill="#3a2436"/>
<ellipse cx="291.8" cy="594.2" rx="4.4" ry="3.3" fill="#3a2436"/>
<ellipse cx="289.5" cy="620" rx="5.1" ry="3.2" fill="#3a2436" transform="rotate(35 289.5 620)"/>
<ellipse cx="313.5" cy="616.5" rx="5.5" ry="3.3" fill="#3a2436" transform="rotate(20 313.5 616.5)"/>
<ellipse cx="307" cy="632" rx="8.8" ry="5.1" fill="#3a2436" transform="rotate(15 307 632)"/>
<ellipse cx="298" cy="641.2" rx="5.1" ry="4.5" fill="#3a2436"/>
<ellipse cx="284.6" cy="649.5" rx="4.4" ry="5.1" fill="#3a2436"/>
<ellipse cx="400" cy="583.8" rx="6.4" ry="3.8" fill="#3a2436" transform="rotate(50 400 583.8)"/>
<ellipse cx="405.5" cy="616" rx="6.0" ry="4.7" fill="#3a2436"/>
<ellipse cx="439.8" cy="601" rx="4.4" ry="2.8" fill="#3a2436"/>
<ellipse cx="382" cy="650.6" rx="5.9" ry="4.4" fill="#3a2436"/>
<ellipse cx="411.8" cy="653" rx="5.1" ry="4.0" fill="#3a2436"/>
<ellipse cx="365" cy="585.6" rx="3.0" ry="3.0" fill="#3a2436"/>
<ellipse cx="362.5" cy="599" rx="2.6" ry="2.6" fill="#3a2436"/>
<ellipse cx="285" cy="506" rx="4.2" ry="4.2" fill="#bc3226"/>
<ellipse cx="287" cy="540.5" rx="4.2" ry="5.1" fill="#bc3226"/>
<ellipse cx="333.3" cy="543.4" rx="5.1" ry="4.6" fill="#bc3226"/>
<ellipse cx="316" cy="570.5" rx="3.1" ry="3.1" fill="#bc3226"/>
<ellipse cx="356" cy="578" rx="3.8" ry="9.3" fill="#bc3226"/>
<ellipse cx="400" cy="524.4" rx="2.1" ry="1.7" fill="#8a2a2a"/>
<ellipse cx="430.8" cy="531.6" rx="3.4" ry="2.1" fill="#bc3226"/>
<ellipse cx="378.5" cy="550.5" rx="3.4" ry="2.5" fill="#bc3226"/>
<ellipse cx="394.7" cy="547" rx="4.7" ry="2.4" fill="#8a2a2a"/>
<ellipse cx="416.3" cy="554.6" rx="3.1" ry="2.0" fill="#bc3226"/>
<ellipse cx="443.4" cy="542.5" rx="3.4" ry="4.2" fill="#bc3226"/>
<ellipse cx="400.5" cy="565" rx="6.3" ry="5.4" fill="#bc3226"/>
<ellipse cx="338.5" cy="606.5" rx="11.5" ry="8.5" fill="#bc3226"/>
<ellipse cx="332.5" cy="583" rx="4.2" ry="4.7" fill="#bc3226"/>
<ellipse cx="322" cy="594" rx="3.8" ry="3.8" fill="#bc3226"/>
<ellipse cx="291.8" cy="594.2" rx="3.1" ry="2.0" fill="#bc3226"/>
<ellipse cx="289.5" cy="620" rx="3.8" ry="1.9" fill="#bc3226" transform="rotate(35 289.5 620)"/>
<ellipse cx="313.5" cy="616.5" rx="4.2" ry="2.0" fill="#bc3226" transform="rotate(20 313.5 616.5)"/>
<ellipse cx="307" cy="632" rx="7.5" ry="3.8" fill="#bc3226" transform="rotate(15 307 632)"/>
<ellipse cx="298" cy="641.2" rx="3.8" ry="3.2" fill="#bc3226"/>
<ellipse cx="284.6" cy="649.5" rx="3.1" ry="3.8" fill="#bc3226"/>
<ellipse cx="400" cy="583.8" rx="5.1" ry="2.5" fill="#bc3226" transform="rotate(50 400 583.8)"/>
<ellipse cx="405.5" cy="616" rx="4.7" ry="3.4" fill="#bc3226"/>
<ellipse cx="439.8" cy="601" rx="3.1" ry="1.5" fill="#bc3226"/>
<ellipse cx="382" cy="650.6" rx="4.6" ry="3.1" fill="#bc3226"/>
<ellipse cx="411.8" cy="653" rx="3.8" ry="2.7" fill="#bc3226"/>
<ellipse cx="365" cy="585.6" rx="1.7" ry="1.7" fill="#bc3226"/>
<ellipse cx="362.5" cy="599" rx="1.3" ry="1.3" fill="#bc3226"/>
<ellipse cx="285" cy="506" rx="3.0" ry="3.0" fill="#e2772e"/>
<ellipse cx="333.3" cy="543.4" rx="3.6" ry="3.2" fill="#e2772e"/>
<ellipse cx="356" cy="578" rx="2.7" ry="6.5" fill="#e2772e"/>
<ellipse cx="443.4" cy="542.5" rx="2.4" ry="3.0" fill="#e2772e"/>
<ellipse cx="400.5" cy="565" rx="5.7" ry="4.8" fill="#e2772e"/>
<ellipse cx="338.5" cy="606.5" rx="10.3" ry="7.5" fill="#e2772e"/>
<ellipse cx="332.5" cy="583" rx="3.0" ry="3.3" fill="#e2772e"/>
<ellipse cx="322" cy="594" rx="2.7" ry="2.7" fill="#e2772e"/>
<ellipse cx="307" cy="632" rx="6.8" ry="3.3" fill="#e2772e" transform="rotate(15 307 632)"/>
<ellipse cx="298" cy="641.2" rx="2.7" ry="2.3" fill="#e2772e"/>
<ellipse cx="405.5" cy="616" rx="3.3" ry="2.4" fill="#e2772e"/>
<ellipse cx="400.5" cy="565" rx="4.5" ry="3.7" fill="#f8e64e"/>
<ellipse cx="338.5" cy="606.5" rx="8.3" ry="5.8" fill="#f8e64e"/>
<ellipse cx="307" cy="632" rx="5.4" ry="2.6" fill="#f8e64e" transform="rotate(15 307 632)"/>
</g></g>
<defs><linearGradient id="cbar" x1="0" y1="1" x2="0" y2="0">
<stop offset="0" stop-color="#15244c"/><stop offset="0.1" stop-color="#35609a"/><stop offset="0.22" stop-color="#62aee6"/><stop offset="0.3" stop-color="#5a9ad4"/>
<stop offset="0.4" stop-color="#3a5a90"/><stop offset="0.48" stop-color="#3a2f48"/><stop offset="0.55" stop-color="#7a2a2a"/><stop offset="0.68" stop-color="#b84530"/>
<stop offset="0.82" stop-color="#e0903c"/><stop offset="1" stop-color="#f4e448"/></linearGradient></defs>
<rect x="204" y="500" width="7" height="147" fill="url(#cbar)" stroke="#444" stroke-width="0.8"/>
<rect x="449" y="500" width="7" height="147" fill="url(#cbar)" stroke="#444" stroke-width="0.8"/>
<text x="47" y="486.4" font-size="16.5" text-anchor="start" fill="#000" font-weight="normal" >N grains</text>
<text x="288.7" y="486.4" font-size="16.5" text-anchor="start" fill="#000" font-weight="normal" >W grains</text>
<text x="41.8" y="514.5" font-size="26" text-anchor="start" fill="#fff" font-weight="normal" >(e)</text>
<text x="282" y="514" font-size="26" text-anchor="start" fill="#fff" font-weight="normal" >(f)</text>
<text x="30.6" y="576" font-size="17" text-anchor="middle" fill="#000" font-weight="normal" transform="rotate(-90 30.6 576)" >Y(μm)</text>
<text x="272.4" y="576.6" font-size="17" text-anchor="middle" fill="#000" font-weight="normal" transform="rotate(-90 272.4 576.6)" >Y(μm)</text>
<text x="120.5" y="678.3" font-size="17" text-anchor="middle" fill="#000" font-weight="normal" >X(μm)</text>
<text x="364.7" y="678.3" font-size="17" text-anchor="middle" fill="#000" font-weight="normal" >X(μm)</text>
<text x="145.7" y="626.8" font-family="'Liberation Sans', sans-serif" font-size="10.3" font-weight="bold" fill="#fff" text-anchor="middle">10 μm</text>
<line x1="126.2" y1="632.3" x2="167.5" y2="632.3" stroke="#fff" stroke-width="1.8"/>
<text x="418.6" y="634.5" font-family="'Liberation Sans', sans-serif" font-size="13" font-weight="bold" fill="#fff" text-anchor="middle">10 μm</text>
<line x1="398.3" y1="642.1" x2="438.9" y2="642.1" stroke="#fff" stroke-width="1.8"/>
</svg></body></html>
